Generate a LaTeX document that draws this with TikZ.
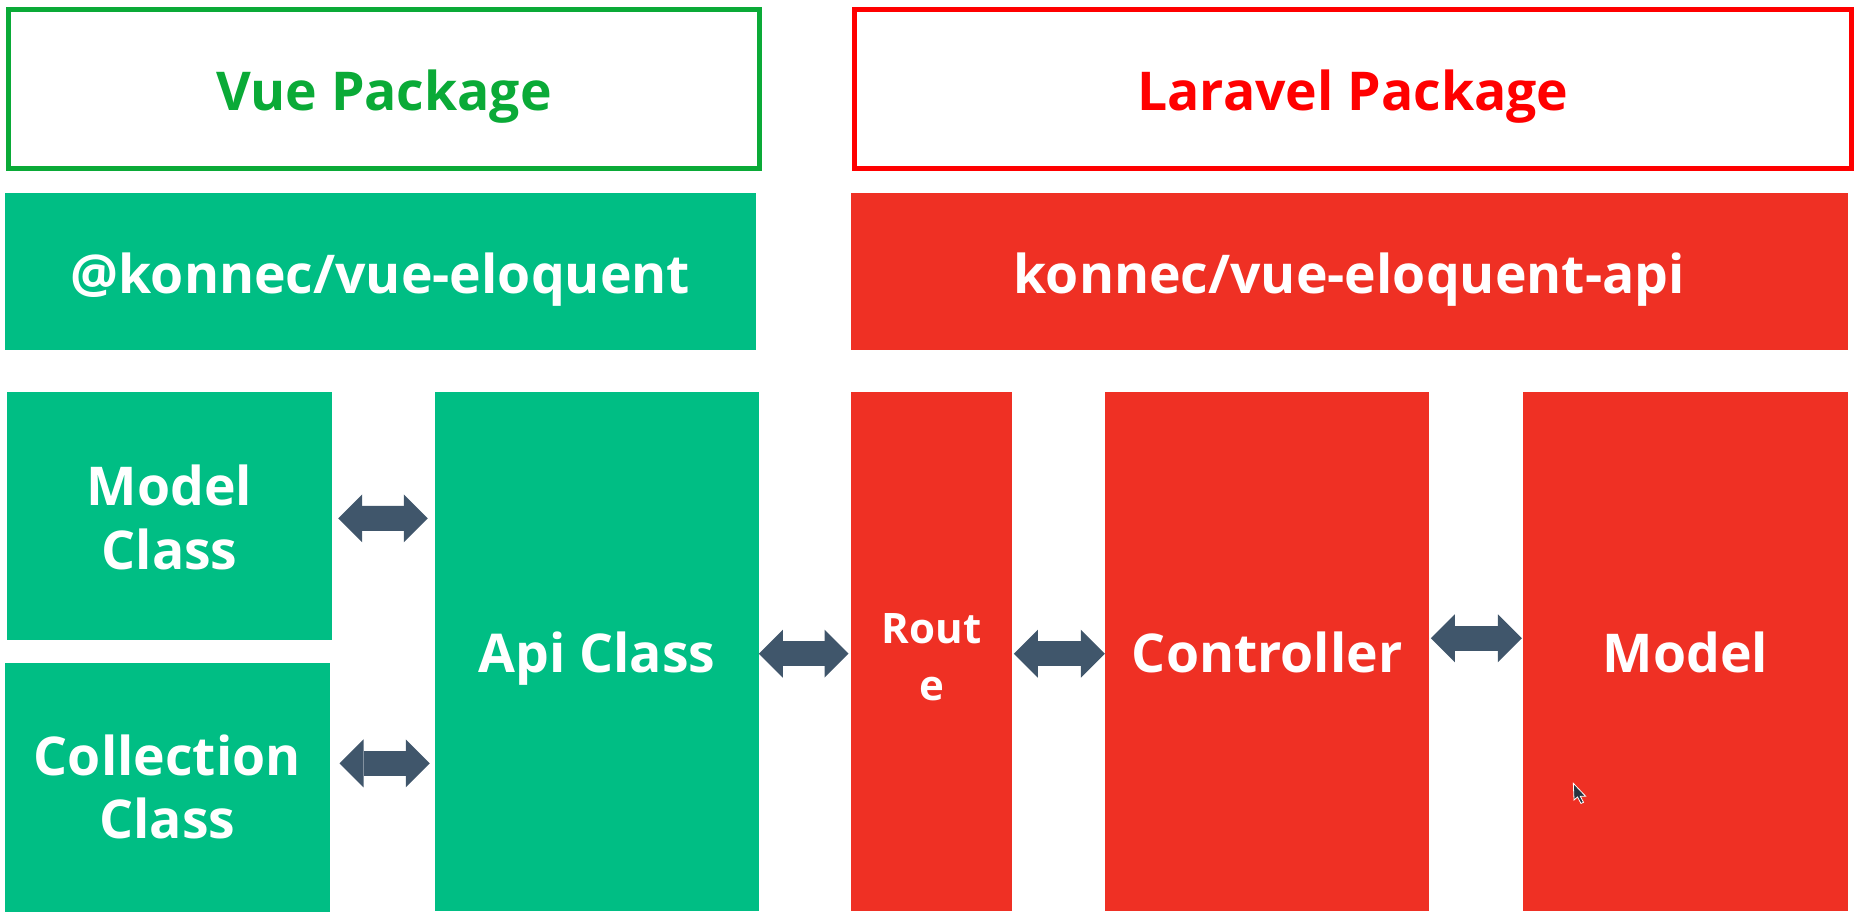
\documentclass[tikz,border=0pt]{standalone}
\usepackage{fontspec}
\setmainfont{Open Sans}
\usetikzlibrary{arrows.meta}
\definecolor{vgreen}{RGB}{0,190,132}
\definecolor{vgreenline}{RGB}{10,170,55}
\definecolor{lred}{RGB}{239,48,36}
\definecolor{lredline}{RGB}{255,0,0}
\definecolor{arrowc}{RGB}{64,86,107}
\tikzset{
  pkgbox/.style={draw, line width=5pt, fill=white, inner sep=0pt},
  fillbox/.style={draw=none, inner sep=0pt},
  gbox/.style={fillbox, fill=vgreen},
  rbox/.style={fillbox, fill=lred},
  lbl/.style={inner sep=0pt, text=white, align=center,
    font=\bfseries\fontsize{53.5}{64}\selectfont},
  biarrow/.style={draw=arrowc, line width=25pt, line cap=butt,
    {Triangle[length=24pt,width=48pt,line width=0pt]}-{Triangle[length=24pt,width=48pt,line width=0pt]}}
}
\begin{document}
\begin{tikzpicture}[x=1pt,y=-1pt]
\useasboundingbox (0,0) rectangle (1861,921);
% package headers
\node[pkgbox, draw=vgreenline, minimum width=751pt, minimum height=158.4pt] (vuepkg) at (384,89) {};
\node[pkgbox, draw=lredline, minimum width=996.2pt, minimum height=158.4pt] (larpkg) at (1352.9,89) {};
\node[lbl, text=vgreenline, anchor=base] (vuepkgt) at (384,110) {Vue Package};
\node[lbl, text=lredline, anchor=base] (larpkgt) at (1352.9,110) {Laravel Package};
% names
\node[gbox, minimum width=751.5pt, minimum height=156.7pt] (vuename) at (380.45,271.35) {};
\node[rbox, minimum width=996.4pt, minimum height=156.7pt] (larname) at (1349.3,271.35) {};
\node[lbl, anchor=base] (vuenamet) at (380.45,293.3) {@konnec/vue-eloquent};
\node[lbl, anchor=base] (larnamet) at (1349.3,293.3) {konnec/vue-eloquent-api};
% components
\node[gbox, minimum width=325pt, minimum height=248.3pt] (mc) at (169.6,516.15) {};
\node[gbox, minimum width=325.1pt, minimum height=248.4pt] (cc) at (167.25,787.5) {};
\node[gbox, minimum width=324.5pt, minimum height=518.7pt] (api) at (596.95,651.35) {};
\node[rbox, minimum width=161.3pt, minimum height=518.7pt] (route) at (931.75,651.35) {};
\node[rbox, minimum width=324.4pt, minimum height=518.7pt] (ctrl) at (1267.2,651.35) {};
\node[rbox, minimum width=324.5pt, minimum height=518.7pt] (model) at (1685.25,651.35) {};
\node[lbl] (mct) at (169.6,517) {Model\\Class};
\node[lbl, font=\bfseries\fontsize{53.5}{62.5}\selectfont] (cct) at (167.25,787) {Collection\\Class};
\node[lbl, anchor=base] (apit) at (596.95,672.3) {Api Class};
\node[lbl, font=\bfseries\fontsize{42}{57}\selectfont] (routet) at (931.75,657.5) {Rout\\e};
\node[lbl, anchor=base] (ctrlt) at (1267.2,672.3) {Controller};
\node[lbl, anchor=base] (modelt) at (1685.25,672.3) {Model};
% connectors
\draw[biarrow] ([shift={(5.9,2.15)}]mc.east) -- ([shift={(-6.7,-133.05)}]api.west);
\draw[biarrow] ([shift={(9.5,-24.2)}]cc.east) -- ([shift={(-4.7,111.95)}]api.west);
\draw[biarrow] ([shift={(-0.6,2.35)}]api.east) -- ([shift={(-2.4,2.35)}]route.west);
\draw[biarrow] ([shift={(1.2,2.35)}]route.east) -- ([shift={(0,2.35)}]ctrl.west);
\draw[biarrow] ([shift={(1.2,-13.05)}]ctrl.east) -- ([shift={(-1,-13.05)}]model.west);
% mouse pointer
\fill[arrowc!60!black, draw=white, line width=0.8pt] (1573.3,783.3) -- (1574,800) -- (1577.5,797) -- (1581,803.5) -- (1583.5,802.3) -- (1580.3,796.3) -- (1585.7,796.3) -- cycle;
\end{tikzpicture}
\end{document}
